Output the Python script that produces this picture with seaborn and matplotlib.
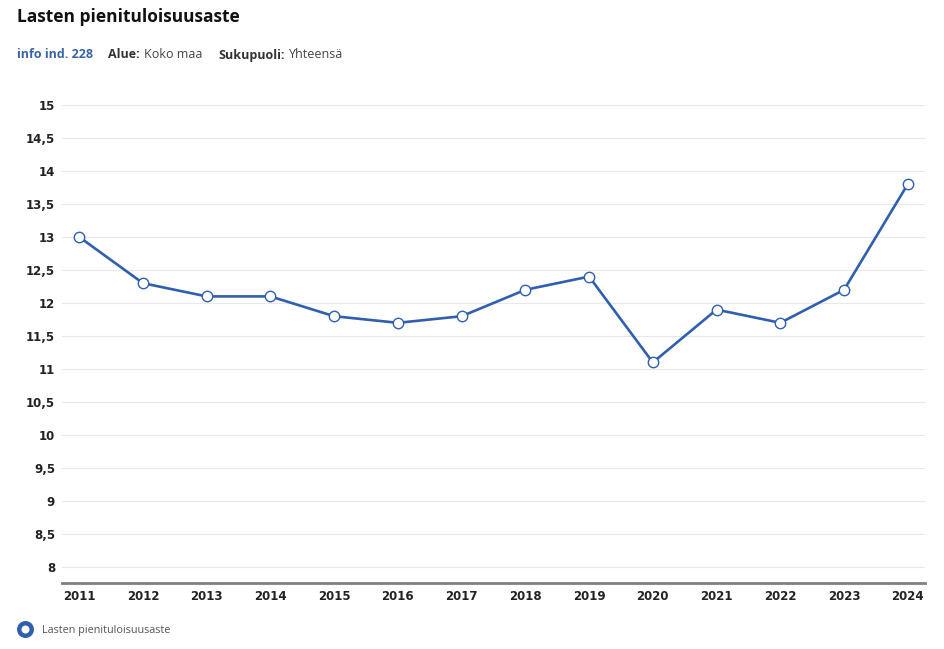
import matplotlib
matplotlib.use("Agg")
import matplotlib.pyplot as plt
from matplotlib.lines import Line2D
from matplotlib.ticker import FuncFormatter, MultipleLocator
import pandas as pd
import seaborn as sns

years = [2011, 2012, 2013, 2014, 2015, 2016, 2017, 2018, 2019, 2020, 2021, 2022, 2023, 2024]
values = [13.0, 12.3, 12.1, 12.1, 11.8, 11.7, 11.8, 12.2, 12.4, 11.1, 11.9, 11.7, 12.2, 13.8]
series_name = "Lasten pienituloisuusaste"

line_color = "#2f5fae"

sns.set_theme(style="white")
plt.rcParams["font.family"] = ["Open Sans", "DejaVu Sans"]

df = pd.DataFrame({"year": years, "value": values})

fig = plt.figure(figsize=(9.45, 6.49), dpi=100)
ax = fig.add_axes([62 / 945, 1 - 583 / 649, (925 - 62) / 945, (583 - 95) / 649])

sns.lineplot(data=df, x="year", y="value", ax=ax, color=line_color, linewidth=1.9,
             marker="o", markersize=7.5, markerfacecolor="white",
             markeredgecolor=line_color, markeredgewidth=1, zorder=3)

ax.set_xlim(years[0] - 0.27, years[-1] + 0.27)
ax.set_ylim(7.76, 15.15)
ax.yaxis.set_major_locator(MultipleLocator(0.5))
ax.yaxis.set_major_formatter(FuncFormatter(lambda v, p: f"{v:g}".replace(".", ",")))
ax.set_xticks(years)
ax.grid(axis="y", color="#e8e8e8", linewidth=0.8)
ax.set_axisbelow(True)
for s in ["top", "right", "left"]:
    ax.spines[s].set_visible(False)
ax.spines["bottom"].set_color("#808080")
ax.spines["bottom"].set_linewidth(2)
ax.tick_params(axis="both", length=0, labelsize=8.5, labelcolor="#222222")
ax.tick_params(axis="y", pad=5)
ax.tick_params(axis="x", pad=5)
for lab in ax.get_xticklabels() + ax.get_yticklabels():
    lab.set_family("DejaVu Sans")
    lab.set_fontweight("bold")
ax.set_xlabel("")
ax.set_ylabel("")

fig.text(17 / 945, 1 - 17 / 649, "Lasten pienituloisuusaste", fontsize=12.5,
         fontweight="bold", va="center", ha="left", color="#111111")

sub_y = 1 - 55 / 649
fig.text(17 / 945, sub_y, "info ind. 228", fontsize=9, fontweight="bold",
         color="#3a63a8", va="center")
fig.text(108 / 945, sub_y, "Alue:", fontsize=9, fontweight="bold", color="#333333", va="center")
fig.text(144 / 945, sub_y, "Koko maa", fontsize=9, color="#444444", va="center")
fig.text(218 / 945, sub_y, "Sukupuoli:", fontsize=9, fontweight="bold", color="#333333", va="center")
fig.text(289 / 945, sub_y, "Yhteensä", fontsize=9, color="#444444", va="center")

handle = Line2D([], [], linestyle="none", marker="o", markersize=9,
                markerfacecolor="white", markeredgecolor=line_color, markeredgewidth=3.2)
fig.legend([handle], [series_name], loc="center left",
           bbox_to_anchor=(9 / 945, 1 - 630 / 649), frameon=False,
           fontsize=7.8, labelcolor="#555555", handletextpad=0.9, handlelength=1.2)

fig.savefig("out.png", dpi=100)
